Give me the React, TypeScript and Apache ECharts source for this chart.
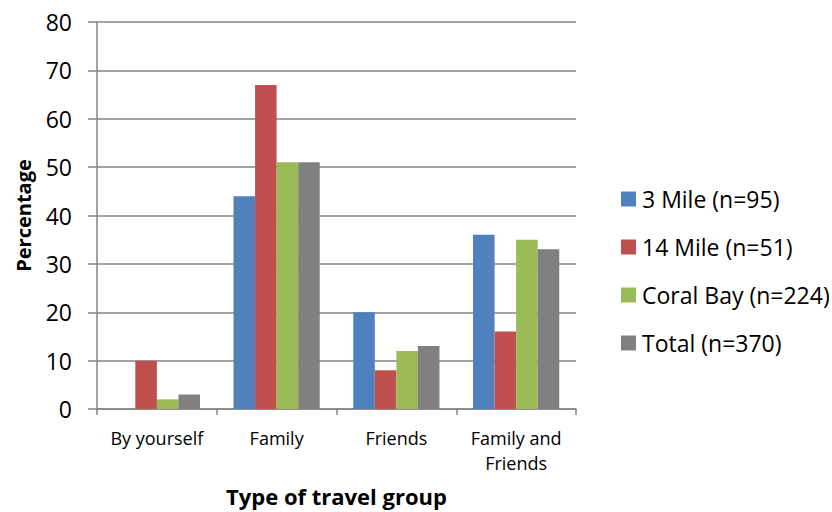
import React, { useEffect, useRef } from "react";
import * as echarts from "echarts";

const categories = ["By yourself", "Family", "Friends", "Family and\nFriends"];
const seriesNames = ["3 Mile (n=95)", "14 Mile (n=51)", "Coral Bay (n=224)", "Total (n=370)"];
const threeMile = [0, 44, 20, 36];
const fourteenMile = [10, 67, 8, 16];
const coralBay = [2, 51, 12, 35];
const total = [3, 51, 13, 33];
const colors = ["#4F81BD", "#C0504D", "#9BBB59", "#808080"];

const FONT = "'Open Sans', 'Liberation Sans', sans-serif";

export default function App() {
  const ref = useRef<HTMLDivElement>(null);
  useEffect(() => {
    if (!ref.current) return;
    const chart = echarts.init(ref.current, null, { renderer: "svg" });
    const values = [threeMile, fourteenMile, coralBay, total];
    chart.setOption({
      animation: false,
      textStyle: { fontFamily: FONT },
      grid: { left: 97, right: 256, top: 22, bottom: 101, containLabel: false },
      legend: {
        orient: "vertical",
        left: 616,
        top: 182,
        itemWidth: 15,
        itemHeight: 15,
        itemGap: 24,
        icon: "rect",
        textStyle: { fontFamily: FONT, fontSize: 23, lineHeight: 24, color: "#000", padding: [0, 0, 0, 1] },
        data: seriesNames,
      },
      xAxis: {
        type: "category",
        data: categories,
        name: "Type of travel group",
        nameLocation: "middle",
        nameGap: 76,
        nameTextStyle: { fontFamily: FONT, fontSize: 22, fontWeight: "bold", color: "#000" },
        axisLine: { lineStyle: { color: "#868686", width: 1.5 } },
        axisTick: { show: true, length: 6, lineStyle: { color: "#868686", width: 1.5 } },
        axisLabel: { interval: 0, hideOverlap: false, fontFamily: FONT, fontSize: 18, color: "#000", margin: 16, lineHeight: 25 },
      },
      yAxis: {
        type: "value",
        min: 0,
        max: 80,
        interval: 10,
        name: "Percentage",
        nameLocation: "middle",
        nameGap: 64,
        nameTextStyle: { fontFamily: FONT, fontSize: 20, fontWeight: "bold", color: "#000" },
        axisLine: { show: true, lineStyle: { color: "#868686", width: 1.5 } },
        axisTick: { show: true, inside: false, length: 9, lineStyle: { color: "#868686", width: 1.5 } },
        axisLabel: { fontFamily: FONT, fontSize: 23, color: "#000", margin: 25 },
        splitLine: { show: true, lineStyle: { color: "#868686", width: 1.5 } },
      },
      series: seriesNames.map((name, i) => ({
        name,
        type: "bar",
        data: values[i],
        barGap: "0%",
        barCategoryGap: "28%",
        itemStyle: { color: colors[i] },
      })),
    });
    return () => chart.dispose();
  }, []);
  return <div ref={ref} style={{ width: 832, height: 512, position: "absolute", left: 0, top: 0 }} />;
}
